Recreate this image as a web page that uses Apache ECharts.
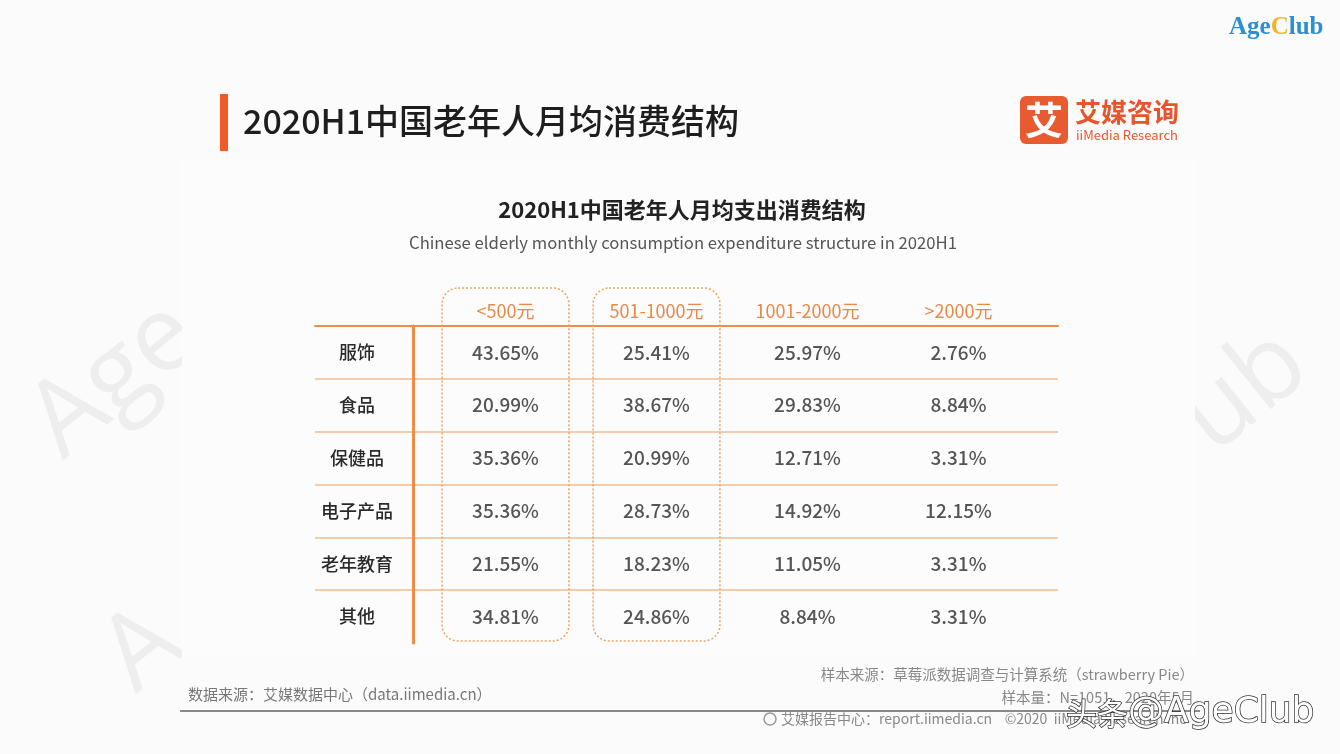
<!DOCTYPE html>
<html>
<head>
<meta charset="utf-8">
<script src="https://cdn.jsdelivr.net/npm/echarts@6/dist/echarts.min.js"></script>
<style>
  html, body { margin: 0; padding: 0; background: #fbfbfb; }
  #box { width: 1340px; height: 754px; }
</style>
</head>
<body>
<div id="box"></div>
<script>
// 行：消费品类；列：月均支出档位
var rowNames = ['服饰', '食品', '保健品', '电子产品', '老年教育', '其他']
var colNames = ['<500元', '501-1000元', '1001-2000元', '>2000元']

var lt500 = [43.65, 20.99, 35.36, 35.36, 21.55, 34.81]
var r501to1000 = [25.41, 38.67, 20.99, 28.73, 18.23, 24.86]
var r1001to2000 = [25.97, 29.83, 12.71, 14.92, 11.05, 8.84]
var gt2000 = [2.76, 8.84, 3.31, 12.15, 3.31, 3.31]

// 虚线框圈出的列
var boxedCols = [0, 1]

var columns = [lt500, r501to1000, r1001to2000, gt2000]
var FONT = '"Noto Sans CJK SC", "Noto Sans", sans-serif'
var ORANGE = '#ec8d4c'
var WM = '#eeeeee'

var chart = echarts.init(document.getElementById('box'))

var valueSeries = columns.map(function (vals, c) {
    return {
        type: 'scatter',
        xAxisIndex: 1,
        yAxisIndex: 1,
        symbolSize: 1,
        itemStyle: { color: 'rgba(0,0,0,0)' },
        silent: true,
        label: {
            show: true,
            position: 'inside',
            color: '#2a2a2a',
            fontSize: 19,
            fontWeight: 500,
            fontFamily: FONT,
            formatter: function (p) { return p.value[2].toFixed(2) + '%' }
        },
        data: vals.map(function (v, r) { return [colNames[c], rowNames[r], v] })
    }
})

var boxSeries = {
    type: 'custom',
    xAxisIndex: 1,
    yAxisIndex: 1,
    silent: true,
    z: 1,
    data: boxedCols.map(function (c) { return [c, 0] }),
    renderItem: function (params, api) {
        var cx = api.coord([api.value(0), 0])[0]
        var band = api.size([1, 0])[0]
        var cs = params.coordSys
        return {
            type: 'rect',
            shape: {
                x: cx - band * 0.42,
                y: cs.y - 38,
                width: band * 0.84,
                height: cs.height + 36,
                r: 16
            },
            style: {
                fill: 'none',
                stroke: '#e9a45f',
                lineWidth: 1.5,
                lineDash: [2, 2]
            }
        }
    }
}

chart.setOption({
    backgroundColor: '#fbfbfb',
    textStyle: { fontFamily: FONT },
    grid: [
        { left: 315, top: 326, width: 743, height: 317 },
        { left: 430, top: 326, width: 604, height: 317 }
    ],
    xAxis: [{
        gridIndex: 0,
        type: 'category',
        position: 'top',
        data: [''],
        axisLine: { show: true, lineStyle: { color: ORANGE, width: 2 } },
        axisTick: { show: false },
        axisLabel: { show: false },
        splitLine: { show: false }
    }, {
        gridIndex: 1,
        type: 'category',
        position: 'top',
        data: colNames,
        axisLine: { show: false },
        axisTick: { show: false },
        axisLabel: { color: '#e8894a', fontSize: 18, margin: 6, fontFamily: FONT }
    }],
    yAxis: [{
        gridIndex: 0,
        type: 'category',
        inverse: true,
        data: rowNames,
        axisLine: { show: false },
        axisTick: { show: false },
        axisLabel: { show: false },
        splitLine: {
            show: true,
            showMinLine: false,
            showMaxLine: false,
            lineStyle: { color: '#f3bd8f', width: 1.5 }
        }
    }, {
        gridIndex: 1,
        type: 'category',
        inverse: true,
        data: rowNames,
        offset: 17,
        axisLine: { show: true, lineStyle: { color: ORANGE, width: 3 } },
        axisTick: { show: false },
        axisLabel: { color: '#2a2a2a', fontSize: 18, fontWeight: 500, margin: 56, align: 'center', fontFamily: FONT }
    }],
    graphic: [
        // 水印
        { type: 'text', z: -10, x: 77, y: 478, rotation: Math.PI * 39 / 180,
          style: { text: 'Age', fill: WM, fontSize: 105, fontFamily: '"Open Sans", sans-serif', textVerticalAlign: 'bottom' } },
        { type: 'text', z: -10, x: 1328, y: 392, rotation: Math.PI * 39 / 180,
          style: { text: 'ub', fill: WM, fontSize: 105, fontFamily: '"Open Sans", sans-serif', textAlign: 'right', textVerticalAlign: 'bottom' } },
        { type: 'text', z: -10, x: 150, y: 712, rotation: Math.PI * 39 / 180,
          style: { text: 'A', fill: WM, fontSize: 105, fontFamily: '"Open Sans", sans-serif', textVerticalAlign: 'bottom' } },
        { type: 'rect', z: -5, shape: { x: 182, y: 158, width: 1013, height: 500 }, style: { fill: '#fcfcfc' } },

        // 右上角 AgeClub
        { type: 'text', x: 1229, y: 28,
          style: {
              text: '{a|Age}{c|C}{a|lub}',
              textVerticalAlign: 'middle',
              rich: {
                  a: { fill: '#2b8fd6', fontSize: 25, fontWeight: 'bold', fontFamily: '"Liberation Serif", serif' },
                  c: { fill: '#f2b526', fontSize: 25, fontWeight: 'bold', fontFamily: '"Liberation Serif", serif' }
              }
          } },

        // 主标题
        { type: 'rect', shape: { x: 220, y: 94, width: 8, height: 57 }, style: { fill: '#f05a28' } },
        { type: 'text', x: 243, y: 121,
          style: { text: '2020H1中国老年人月均消费结构', fill: '#1e1e1e', fontSize: 34, fontWeight: 500, fontFamily: FONT, textVerticalAlign: 'middle' } },

        // 艾媒咨询 logo
        { type: 'rect', shape: { x: 1020, y: 96, width: 48, height: 48, r: 6 }, style: { fill: '#e85a30' } },
        { type: 'text', x: 1044, y: 120,
          style: { text: '艾', fill: '#fff', fontSize: 38, fontWeight: 'bold', fontFamily: FONT, textAlign: 'center', textVerticalAlign: 'middle' } },
        { type: 'text', x: 1075, y: 112,
          style: { text: '艾媒咨询', fill: '#e8552d', fontSize: 26, fontWeight: 'bold', fontFamily: FONT, textVerticalAlign: 'middle' } },
        { type: 'text', x: 1076, y: 135,
          style: { text: 'iiMedia Research', fill: '#e8552d', fontSize: 13, fontFamily: FONT, textVerticalAlign: 'middle' } },

        // 图表标题
        { type: 'text', x: 682, y: 210,
          style: { text: '2020H1中国老年人月均支出消费结构', fill: '#222', fontSize: 22, fontWeight: 'bold', fontFamily: FONT, textAlign: 'center', textVerticalAlign: 'middle' } },
        { type: 'text', x: 683, y: 243,
          style: { text: 'Chinese elderly monthly consumption expenditure structure in 2020H1', fill: '#555', fontSize: 16.7, fontFamily: FONT, textAlign: 'center', textVerticalAlign: 'middle' } },

        // 页脚
        { type: 'text', x: 1194, y: 674,
          style: { text: '样本来源：草莓派数据调查与计算系统（strawberry Pie）', fill: '#888', fontSize: 14.5, fontFamily: FONT, textAlign: 'right', textVerticalAlign: 'middle' } },
        { type: 'text', x: 1194, y: 697,
          style: { text: '样本量：N=1051，2020年5月', fill: '#888', fontSize: 14.5, fontFamily: FONT, textAlign: 'right', textVerticalAlign: 'middle' } },
        { type: 'text', x: 188, y: 694,
          style: { text: '数据来源：艾媒数据中心（data.iimedia.cn）', fill: '#777', fontSize: 15, fontFamily: FONT, textVerticalAlign: 'middle' } },
        { type: 'line', shape: { x1: 180, y1: 711, x2: 1200, y2: 711 }, style: { stroke: '#8a8a8a', lineWidth: 2 } },
        { type: 'circle', shape: { cx: 770, cy: 719, r: 6 }, style: { fill: 'none', stroke: '#999', lineWidth: 1.5 } },
        { type: 'text', x: 781, y: 719,
          style: { text: '艾媒报告中心：report.iimedia.cn    ©2020  iiMedia Research Inc', fill: '#888', fontSize: 14, fontFamily: FONT, textVerticalAlign: 'middle' } },
        { type: 'text', x: 1066, y: 713,
          style: {
              text: '{z|头条}{e|@AgeClub}',
              textVerticalAlign: 'middle',
              rich: {
                  z: { fill: '#fff', stroke: '#333', lineWidth: 1.5, fontSize: 31, fontFamily: FONT },
                  e: { fill: '#fff', stroke: '#333', lineWidth: 1.5, fontSize: 36, fontFamily: '"DejaVu Sans", sans-serif' }
              }
          } }
    ],
    series: [boxSeries].concat(valueSeries)
})
</script>
</body>
</html>
